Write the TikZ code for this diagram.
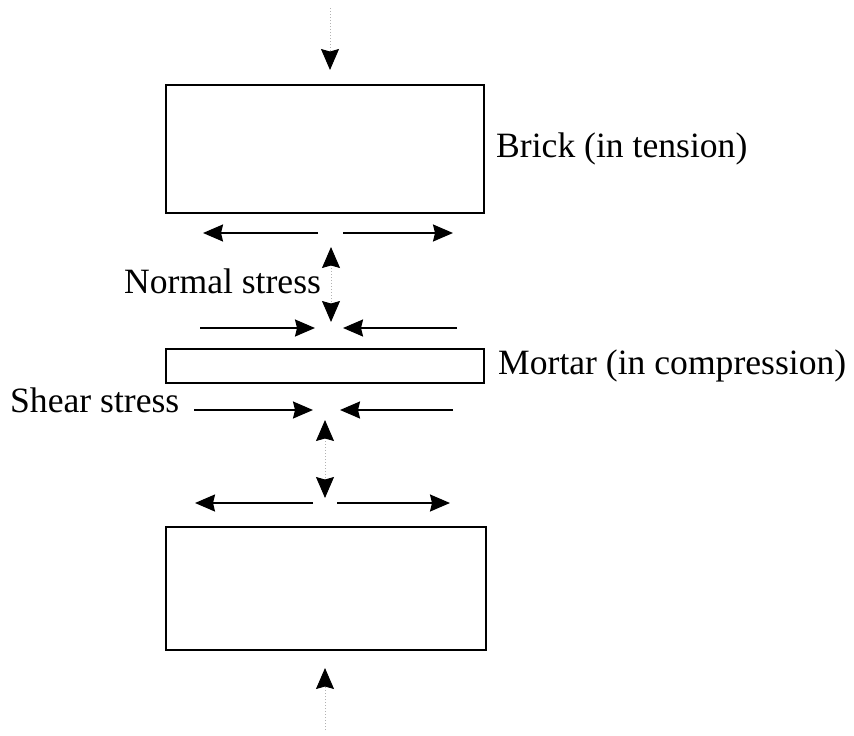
\documentclass[tikz,border=0pt]{standalone}
\usepackage{fontspec}
\setmainfont{Liberation Serif}
\usetikzlibrary{arrows.meta}

\tikzset{
  block/.style={draw=black, line width=2.6pt, fill=white, inner sep=0pt},
  label text/.style={font=\fontsize{35.6}{40}\selectfont, inner sep=0pt, anchor=base west},
  force/.style={line width=1.8pt, -{Stealth[length=20pt, width=17pt, inset=2pt]}},
  load/.style={draw=black!30, line width=1pt, dotted,
    -{Stealth[black, length=21pt, width=18pt, inset=2.5pt]}},
  loadboth/.style={draw=black!30, line width=1pt, dotted,
    {Stealth[black, length=21pt, width=18pt, inset=2.5pt]}-{Stealth[black, length=21pt, width=18pt, inset=2.5pt]}}
}

\begin{document}
\begin{tikzpicture}[x=1pt, y=-1pt]
  \useasboundingbox (0,0) rectangle (854,736);

  % masonry units
  \node[block, minimum width=318pt, minimum height=128pt] (brickTop) at (325,149) {};
  \node[block, minimum width=318pt, minimum height=34pt] (mortar) at (325,366) {};
  \node[block, minimum width=320pt, minimum height=123pt] (brickBot) at (326,588.5) {};

  % labels
  \node[label text] (lblBrick) at (496,157) {Brick (in tension)};
  \node[label text] (lblMortar) at (498,374) {Mortar (in compression)};
  \node[label text] (lblNormal) at (124,293) {Normal stress};
  \node[label text] (lblShear) at (10,412) {Shear stress};

  % external vertical load
  \coordinate (topStart) at (330,8);
  \coordinate (topTip) at (330,70);
  \coordinate (botStart) at (325,730);
  \coordinate (botTip) at (325,668);
  \draw[load] (topStart) -- (topTip);
  \draw[load] (botStart) -- (botTip);

  % normal stress between brick and mortar
  \coordinate (nUp) at (331,247);
  \coordinate (nDown) at (331,322);
  \draw[loadboth] (nUp) -- (nDown);
  \coordinate (sUp) at (325,420);
  \coordinate (sDown) at (325,498);
  \draw[loadboth] (sUp) -- (sDown);

  % tension in the upper brick
  \coordinate (t1a) at (318,233); \coordinate (t1b) at (203,233);
  \coordinate (t2a) at (343,233); \coordinate (t2b) at (453,233);
  \draw[force] (t1a) -- (t1b);
  \draw[force] (t2a) -- (t2b);

  % compression in the mortar, upper face
  \coordinate (c1a) at (200,328); \coordinate (c1b) at (315,328);
  \coordinate (c2a) at (457,328); \coordinate (c2b) at (343,328);
  \draw[force] (c1a) -- (c1b);
  \draw[force] (c2a) -- (c2b);

  % compression in the mortar, lower face (shear stress)
  \coordinate (c3a) at (194,410); \coordinate (c3b) at (313,410);
  \coordinate (c4a) at (453,410); \coordinate (c4b) at (340,410);
  \draw[force] (c3a) -- (c3b);
  \draw[force] (c4a) -- (c4b);

  % tension in the lower brick
  \coordinate (t3a) at (313,503); \coordinate (t3b) at (195,503);
  \coordinate (t4a) at (337,503); \coordinate (t4b) at (450,503);
  \draw[force] (t3a) -- (t3b);
  \draw[force] (t4a) -- (t4b);
\end{tikzpicture}
\end{document}
